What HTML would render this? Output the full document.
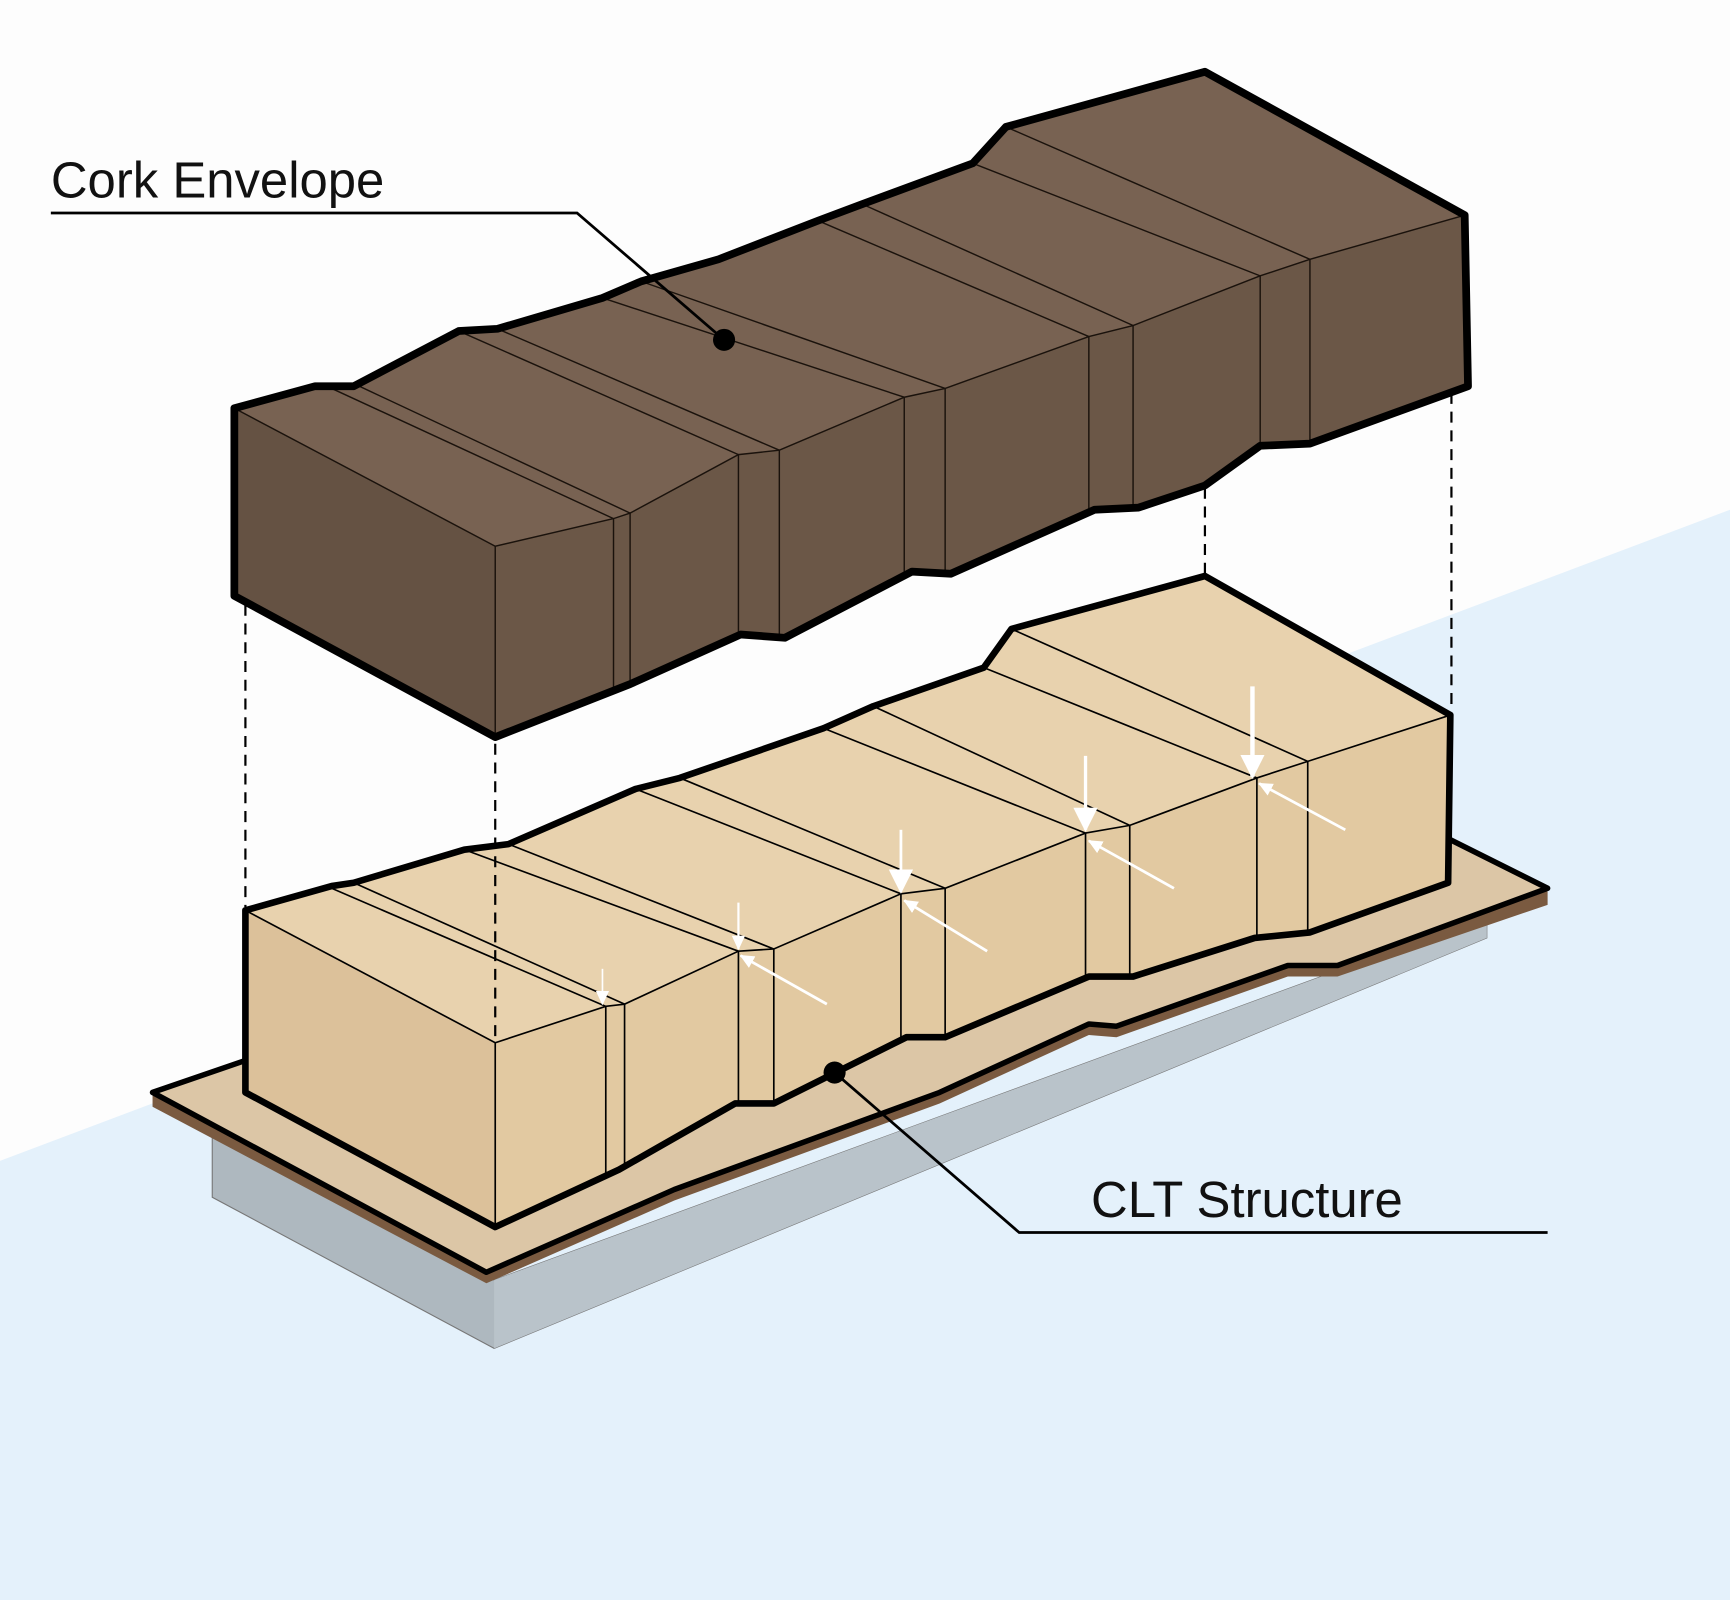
<!DOCTYPE html>
<html><head><meta charset="utf-8"><style>
html,body{margin:0;padding:0;background:#fff;}
svg{display:block;}
text{font-family:"Liberation Sans",Arial,sans-serif;}
</style></head><body>
<svg width="1730" height="1600" viewBox="0 0 1565 1450" preserveAspectRatio="none" xmlns="http://www.w3.org/2000/svg">
<defs>
<marker id="ah" markerWidth="14" markerHeight="14" refX="12" refY="7" orient="auto" markerUnits="userSpaceOnUse"><path d="M0,1 L13,7 L0,13 Z" fill="#fff"/></marker>
<marker id="ahL" markerWidth="24" markerHeight="24" refX="20" refY="12" orient="auto" markerUnits="userSpaceOnUse"><path d="M0,1 L22,12 L0,23 Z" fill="#fff"/></marker>
</defs>
<rect width="1565" height="1450" fill="#fdfdfd"/>
<polygon points="0,1052 1565,462 1565,1450 0,1450" fill="#e4f1fb"/>

<!-- grey base -->
<polygon points="192,1030 192,1085 447,1222 1345,850 1345,830 447,1160" fill="#aeb8bf" stroke="#777" stroke-width="1"/>
<polygon points="447,1160 447,1222 1345,850 1345,830" fill="#b9c3ca"/>
<!-- plate -->
<polygon points="138,993 225,962 1310,760 1400,808 1400,820 1210,885 1165,885 1010,940 985,938 850,1000 700,1055 610,1088 440,1163 138,1003" fill="#7a5a40"/>
<polygon points="138,990 225,960 1310,760 1400,805 1210,875 1165,875 1010,930 985,928 850,990 700,1045 610,1078 440,1153" fill="#dcc6a6" stroke="#000" stroke-width="5" stroke-linejoin="round"/>

<!-- CLT -->
<polygon points="222,825 300,803 320,800 420,770 460,765 575,715 615,705 745,660 790,640 890,605 915,570 1090,522 1312,648 1183,690 1137,705 1022,748 982,755 855,805 815,810 700,860 668,862 565,910 548,912 448,945" fill="#e8d2ae"/>
<polygon points="222,825 448,945 448,1112 222,990" fill="#dcc19a"/>
<polygon points="448,945 548,912 565,910 668,862 700,860 815,810 855,805 982,755 1022,748 1137,705 1183,690 1312,648 1310,800 1185,845 1135,850 1025,885 985,885 855,940 820,940 700,1000 665,1000 560,1060 448,1112" fill="#e2c9a1"/>
<g stroke="#000" stroke-width="1.5" fill="none">
<path d="M222,825 L448,945 L548,912 L565,910 L668,862 L700,860 L815,810 L855,805 L982,755 L1022,748 L1137,705 L1183,690 L1312,648"/>
<path d="M448,945V1112 M548,912V1068 M565,910V1060 M668,862V1000 M700,860V1000 M815,810V940 M855,805V940 M982,755V885 M1022,748V885 M1137,705V850 M1183,690V845"/>
<path d="M300,805 L548,912 M320,800 L565,910 M420,770 L668,862 M460,765 L700,860 M575,715 L815,810 M615,705 L855,805 M745,660 L982,755 M790,640 L1022,748 M890,605 L1137,705 M915,570 L1183,690"/>
</g>
<polygon points="222,825 300,803 320,800 420,770 460,765 575,715 615,705 745,660 790,640 890,605 915,570 1090,522 1312,648 1310,800 1185,845 1135,850 1025,885 985,885 855,940 820,940 700,1000 665,1000 560,1060 448,1112 222,990" fill="none" stroke="#000" stroke-width="6" stroke-linejoin="round"/>

<!-- Cork -->
<polygon points="212,370 285,350 320,350 415,300 450,298 545,270 580,255 650,235 740,200 780,185 880,148 910,115 1090,65 1325,195 1185,235 1140,250 1025,295 985,305 855,352 818,360 705,408 668,412 570,465 555,470 448,495" fill="#786252"/>
<polygon points="212,370 448,495 448,668 212,540" fill="#655243"/>
<polygon points="448,495 555,470 570,465 668,412 705,408 818,360 855,352 985,305 1025,295 1140,250 1185,235 1325,195 1328,350 1185,402 1140,404 1090,440 1030,460 990,462 860,520 825,518 710,578 670,575 570,620 448,668" fill="#6b5747"/>
<g stroke="#1a120c" stroke-width="1.3" fill="none">
<path d="M212,370 L448,495 L555,470 L570,465 L668,412 L705,408 L818,360 L855,352 L985,305 L1025,295 L1140,250 L1185,235 L1325,195"/>
<path d="M448,495V668 M555,470V625 M570,465V620 M668,412V575 M705,408V575 M818,360V518 M855,352V520 M985,305V462 M1025,295V460 M1140,250V404 M1185,235V402"/>
<path d="M300,352 L555,470 M325,350 L570,465 M415,300 L668,412 M450,298 L705,408 M545,270 L818,360 M580,255 L855,352 M740,200 L985,305 M780,185 L1025,295 M880,148 L1140,250 M910,115 L1185,235"/>
</g>
<polygon points="212,370 285,350 320,350 415,300 450,298 545,270 580,255 650,235 740,200 780,185 880,148 910,115 1090,65 1325,195 1328,350 1185,402 1140,404 1090,440 1030,460 990,462 860,520 825,518 710,578 670,575 570,620 448,668 212,540" fill="none" stroke="#000" stroke-width="7" stroke-linejoin="round"/>

<!-- dashed -->
<g stroke="#000" stroke-width="2" stroke-dasharray="10,7">
<path d="M222,548V822 M448,674V945 M1090,442V520 M1313,356V645"/>
</g>

<!-- arrows -->
<g stroke="#fff" fill="none">
<path d="M545,878V910" stroke-width="1.5" marker-end="url(#ah)"/>
<path d="M668,818V860" stroke-width="2" marker-end="url(#ah)"/>
<path d="M815,752V808" stroke-width="2.5" marker-end="url(#ahL)"/>
<path d="M982,685V752" stroke-width="3" marker-end="url(#ahL)"/>
<path d="M1133,622V704" stroke-width="4" marker-end="url(#ahL)"/>
<path d="M748,910L670,866" stroke-width="2.5" marker-end="url(#ah)"/>
<path d="M893,862L818,816" stroke-width="2.5" marker-end="url(#ah)"/>
<path d="M1062,805L985,762" stroke-width="2.5" marker-end="url(#ah)"/>
<path d="M1217,752L1139,710" stroke-width="2.5" marker-end="url(#ah)"/>
</g>

<!-- labels -->
<text x="46" y="179" font-size="46" fill="#111">Cork Envelope</text>
<path d="M46,193 H522 L655,308" stroke="#000" stroke-width="2.5" fill="none"/>
<circle cx="655" cy="308" r="10" fill="#000"/>
<text x="987" y="1103" font-size="46" fill="#111">CLT Structure</text>
<path d="M1400,1117 H922 L755,972" stroke="#000" stroke-width="2.5" fill="none"/>
<circle cx="755" cy="972" r="10" fill="#000"/>
</svg>
</body></html>
